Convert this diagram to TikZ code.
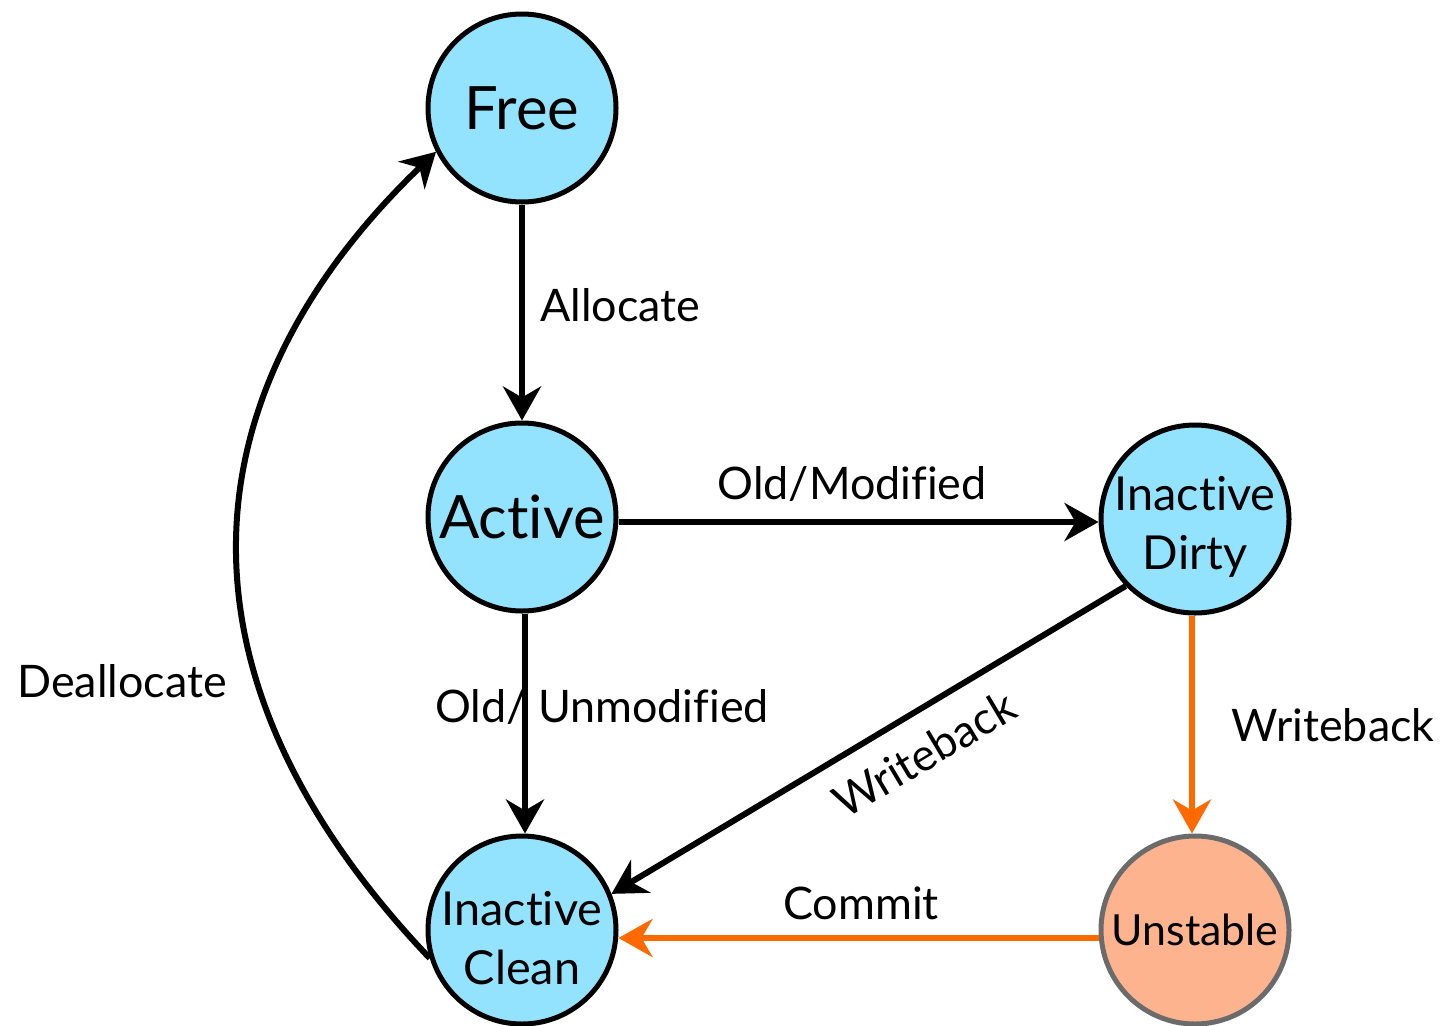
\documentclass[tikz,border=0pt]{standalone}
\usepackage{fontspec}
\setmainfont{Lato}[Ligatures=NoCommon]
\usetikzlibrary{arrows.meta}
\definecolor{stateblue}{HTML}{94E3FE}
\definecolor{hotorange}{HTML}{FF6A00}
\definecolor{peach}{HTML}{FDB48E}
\definecolor{rimgray}{HTML}{6B6B6B}
\tikzset{
  state/.style={circle, draw=black, line width=5bp, fill=stateblue,
    minimum size=188bp, inner sep=0pt, align=center,
    font=\fontsize{50}{60}\selectfont},
  bigstate/.style={state, font=\fontsize{60}{70}\selectfont},
  pending/.style={state, draw=rimgray, fill=peach},
  statetext/.style={align=center, inner sep=0pt,
    font=\fontsize{47}{60}\selectfont},
  tip/.style={-{Stealth[length=34bp, width=38bp, inset=11bp]}},
  trans/.style={tip, line width=6bp, draw=black},
  hot/.style={tip, line width=6bp, draw=hotorange},
  lbl/.style={font=\fontsize{45}{54}\selectfont, inner sep=0pt}
}
\begin{document}
\begin{tikzpicture}[x=1bp, y=-1bp]
\useasboundingbox (0,0) rectangle (1441,1025);

% states
\node[bigstate] (free)     at (522,108) {Free};
\node[bigstate] (active)   at (522,517) {Active};
\node[state, label={[statetext, yshift=-8bp, name=dirtytext]center:Inactive\\Dirty}]
  (dirty) at (1195,519) {};
\node[state, label={[statetext, yshift=-8bp, name=cleantext]center:Inactive\\Clean}]
  (clean) at (522,930) {};
\node[pending, font=\fontsize{43}{52}\selectfont] (unstable) at (1195,930) {Unstable};

% transitions
\draw[trans] (free.south) -- (active.north);
\draw[trans] (active.east |- 0,522) -- (dirty.west |- 0,522);
\draw[trans] ([xshift=3bp]active.south) -- ([xshift=3bp]clean.north);
\draw[trans] (dirty.224) -- (clean.22);
\draw[hot] ([xshift=-3bp]dirty.south) -- ([xshift=-3bp]unstable.north);
\draw[hot] (unstable.west |- 0,938) -- (clean.east |- 0,938);
\draw[trans] (clean.197) .. controls (156,670) and (190,388) .. (free.207);

% labels
\node[lbl, anchor=west] (lalloc) at (540,305) {Allocate};
\node[lbl] (lmod) at (852,484) {Old/Modified};
\node[lbl, anchor=west] (lunmod) at (435,707) {Old/ Unmodified};
\node[lbl, rotate=30.8] (lwb1) at (924,754) {Writeback};
\node[lbl] (lwb2) at (1333,725) {Writeback};
\node[lbl] (lcommit) at (861,903) {Commit};
\node[lbl] (ldealloc) at (122,681) {Deallocate};
\end{tikzpicture}
\end{document}
